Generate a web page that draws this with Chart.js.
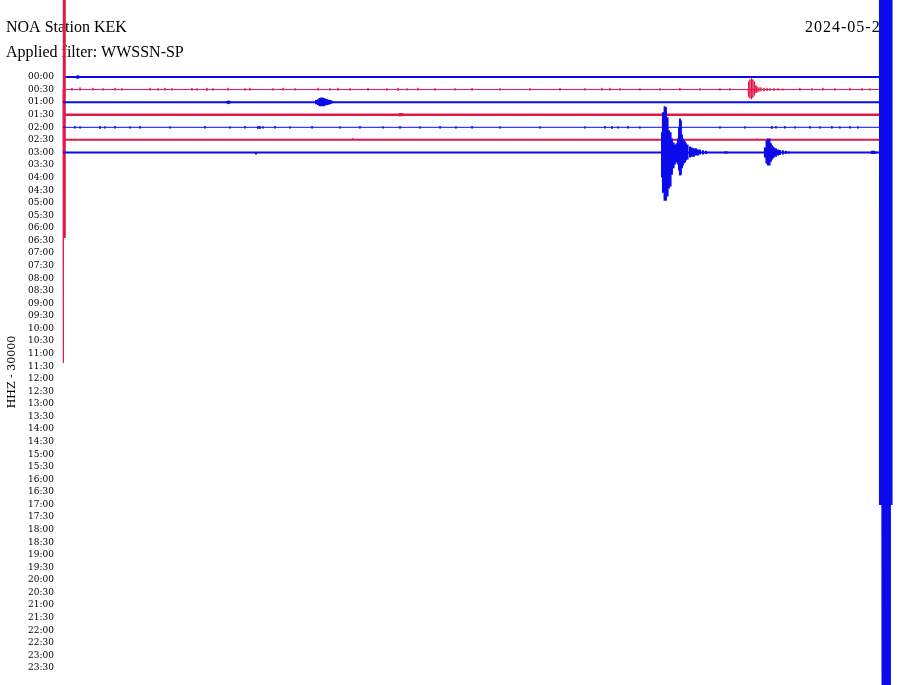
<!DOCTYPE html>
<html>
<head>
<meta charset="utf-8">
<script src="https://cdn.jsdelivr.net/npm/chart.js@4.4.1/dist/chart.umd.min.js"></script>
<style>
  html, body { margin: 0; padding: 0; background: #fff; }
  #wrap { width: 900px; height: 685px; }
</style>
</head>
<body>
<div id="wrap"><canvas id="heli" width="900" height="685"></canvas></div>
<script>
const STATION = 'NOA Station KEK';
const FILTER = 'Applied filter: WWSSN-SP';
const DATE_LABEL = '2024-05-22';
const CHANNEL = 'HHZ - 30000';
const COUNTS_PER_ROW = 30; // thousands of counts between two rows

const ROW_LABELS = [
  '00:00', '00:30', '01:00', '01:30', '02:00', '02:30', '03:00', '03:30',
  '04:00', '04:30', '05:00', '05:30', '06:00', '06:30', '07:00', '07:30',
  '08:00', '08:30', '09:00', '09:30', '10:00', '10:30', '11:00', '11:30',
  '12:00', '12:30', '13:00', '13:30', '14:00', '14:30', '15:00', '15:30',
  '16:00', '16:30', '17:00', '17:30', '18:00', '18:30', '19:00', '19:30',
  '20:00', '20:30', '21:00', '21:30', '22:00', '22:30', '23:00', '23:30',
];

// samples: [minute in the row, swing up, swing down] in thousands of counts
const TRACE_0000 = [
  [0, 0, 0], [1.03, 2, 2], [1.10, 4, 4], [1.17, 3, 3], [60.0, 0, 0],
];

const TRACE_0030 = [
  [0.00, 300, 652], [0.05, 300, 566], [0.10, 300, 354], [0.15, 300, 354],
  [0.66, 4, 2], [1.25, 5, 2], [2.20, 4, 2], [2.94, 3, 2], [3.82, 4, 2], [4.33, 3, 2],
  [6.39, 4, 2], [6.98, 3, 2], [7.49, 4, 2], [8.00, 3, 2], [9.47, 4, 2], [9.84, 3, 2],
  [10.57, 4, 3], [11.02, 3, 2], [12.12, 4, 2], [13.37, 3, 2], [13.73, 4, 2], [15.42, 3, 2],
  [16.16, 4, 2], [17.04, 3, 2], [18.73, 4, 2], [19.61, 3, 2], [20.20, 4, 2], [21.08, 3, 2],
  [22.40, 4, 2], [23.79, 3, 2], [24.60, 4, 3], [25.26, 3, 2], [26.07, 4, 2], [27.32, 3, 2],
  [28.79, 3, 2], [30.04, 4, 2], [32.09, 3, 2], [34.30, 3, 2], [36.50, 4, 2], [38.33, 3, 2],
  [39.58, 4, 2], [40.17, 4, 2], [40.91, 3, 2], [42.37, 3, 2], [43.84, 3, 2], [45.31, 4, 2],
  [46.78, 3, 2], [48.25, 3, 2], [48.98, 3, 2],
  [50.31, 10, 10], [50.38, 19, 17], [50.45, 24, 21], [50.53, 27, 23], [50.60, 27, 23],
  [50.67, 24, 19], [50.75, 19, 14], [50.82, 14, 10], [50.89, 10, 8], [50.97, 7, 7],
  [51.11, 5, 5], [51.26, 5, 4], [51.48, 4, 4], [51.70, 4, 3], [51.92, 3, 3], [52.21, 3, 3],
  [52.51, 3, 2], [52.87, 2, 2],
  [54.12, 4, 2], [55.00, 3, 2], [55.81, 4, 2], [56.69, 3, 2], [57.80, 4, 2], [58.68, 3, 2],
  [59.26, 3, 2], [60.0, 0, 0],
];

const TRACE_0100 = [
  [0, 0, 0],
  [12.05, 3, 3], [12.12, 4, 4], [12.19, 4, 3], [12.26, 3, 3],
  [18.43, 2, 2], [18.58, 5, 5], [18.73, 7, 7], [18.84, 10, 10], [18.95, 11, 10],
  [19.06, 11, 10], [19.17, 10, 10], [19.28, 8, 8], [19.39, 7, 7], [19.50, 6, 6],
  [19.61, 5, 5], [19.72, 4, 4], [19.83, 2, 2],
  [45.31, 2, 2], [46.41, 2, 2], [58.53, 2, 2], [60.0, 0, 0],
];

const TRACE_0130 = [
  [0, 0, 0], [13.73, 2, 2], [23.28, 2, 2], [24.75, 4, 4], [24.90, 4, 3],
  [27.47, 3, 3], [29.08, 2, 2], [58.38, 2, 2], [60.0, 0, 0],
];

const TRACE_0200 = [
  [0, 0, 0], [0.88, 3, 3], [1.25, 2, 3], [2.72, 3, 4], [3.08, 2, 3], [3.82, 3, 3],
  [4.92, 2, 3], [5.65, 3, 3], [7.86, 2, 3], [10.43, 3, 3], [12.26, 2, 3], [13.37, 3, 3],
  [14.32, 3, 4], [14.47, 3, 4], [14.69, 2, 3], [15.57, 3, 3], [16.67, 2, 3], [18.29, 3, 3],
  [20.34, 2, 3], [21.81, 3, 3], [23.50, 2, 3], [24.75, 3, 3], [26.22, 2, 3], [27.69, 3, 3],
  [28.86, 2, 3], [30.04, 3, 3], [32.09, 2, 3], [35.03, 2, 3], [38.33, 2, 3], [39.80, 3, 3],
  [40.32, 3, 4], [40.76, 2, 3], [41.49, 3, 3], [42.37, 2, 3], [48.25, 2, 3], [50.08, 2, 3],
  [52.07, 3, 4], [52.36, 3, 3], [53.02, 3, 3], [53.76, 2, 3], [54.86, 3, 3], [55.59, 2, 3],
  [56.47, 3, 3], [57.06, 2, 3], [57.80, 3, 3], [58.38, 2, 3], [60.0, 0, 0],
];

const TRACE_0230 = [
  [0, 0, 0], [3.45, 2, 2], [21.30, 4, 2], [50.97, 3, 2], [53.39, 2, 2], [57.43, 2, 1],
  [60.0, 0, 0],
];

const TRACE_0300 = [
  [0, 0, 0], [14.17, 2, 5], [48.62, 3, 3], [48.76, 3, 3],
  [43.99, 48, 60], [44.06, 96, 96], [44.14, 108, 110], [44.21, 110, 115], [44.28, 108, 115],
  [44.36, 84, 105], [44.43, 60, 91], [44.50, 53, 86], [44.58, 48, 81], [44.65, 43, 67],
  [44.72, 33, 53], [44.80, 24, 38], [44.87, 22, 33], [44.94, 19, 29], [45.02, 19, 24],
  [45.09, 22, 24], [45.16, 33, 29], [45.24, 60, 43], [45.31, 81, 55], [45.38, 76, 53],
  [45.46, 43, 38], [45.53, 33, 31], [45.60, 29, 26], [45.68, 26, 24], [45.75, 22, 19],
  [45.83, 19, 17], [45.90, 17, 14], [46.05, 14, 12], [46.19, 12, 10], [46.34, 10, 10],
  [46.49, 10, 7], [46.63, 7, 7], [46.78, 7, 5], [47.00, 5, 5], [47.22, 4, 4],
  [51.55, 12, 12], [51.63, 22, 22], [51.70, 29, 26], [51.77, 33, 31], [51.85, 33, 31],
  [51.92, 26, 24], [51.99, 22, 22], [52.07, 17, 17], [52.14, 14, 14], [52.21, 12, 12],
  [52.36, 10, 10], [52.51, 7, 7], [52.65, 6, 6], [52.87, 5, 5], [53.09, 4, 4], [53.31, 3, 3],
  [59.41, 4, 4], [59.56, 4, 4], [59.71, 3, 3],
  [60.00, 500, 841], [60.07, 500, 841], [60.15, 500, 1400], [60.22, 500, 1400],
  [60.29, 500, 1400], [60.37, 500, 1400], [60.44, 500, 1400], [60.51, 500, 1400],
  [60.59, 500, 1400], [60.66, 500, 1400], [60.73, 500, 1400], [60.81, 500, 841],
  [60.88, 500, 480],
];

const TRACES = [TRACE_0000, TRACE_0030, TRACE_0100, TRACE_0130, TRACE_0200, TRACE_0230, TRACE_0300];

const BLUE = '#0a0aec';
const RED = '#e0184a';
const TRACE_STYLES = [
  { color: BLUE, width: 2 },
  { color: RED, width: 1 },
  { color: BLUE, width: 2 },
  { color: RED, width: 2.5 },
  { color: BLUE, width: 1 },
  { color: RED, width: 2 },
  { color: BLUE, width: 2 },
];

// every sample becomes a vertical stroke through the row's baseline
function toPoints(row, samples) {
  const sorted = samples.slice().sort((a, b) => a[0] - b[0]);
  const pts = [];
  sorted.forEach(([minute, up, down]) => {
    pts.push({ x: minute, y: row });
    pts.push({ x: minute, y: row - up / COUNTS_PER_ROW });
    pts.push({ x: minute, y: row + down / COUNTS_PER_ROW });
    pts.push({ x: minute, y: row });
  });
  return pts;
}

const headerPlugin = {
  id: 'header',
  beforeDatasetsDraw(chart) {
    const ctx = chart.ctx;
    ctx.save();
    ctx.fillStyle = '#000';
    ctx.textBaseline = 'alphabetic';
    ctx.textAlign = 'left';
    ctx.font = '16px "Liberation Serif"';
    ctx.fillText(STATION, 6, 32);
    ctx.fillText(FILTER, 6, 57);
    ctx.letterSpacing = '1px';
    ctx.fillText(DATE_LABEL, 805, 32);
    ctx.letterSpacing = '0px';
    ctx.font = '11px "DejaVu Serif"';
    ctx.translate(15, 372);
    ctx.rotate(-Math.PI / 2);
    ctx.textAlign = 'center';
    ctx.fillText(CHANNEL, 0, 0);
    ctx.restore();
  },
};

const datasets = TRACES.map((samples, row) => ({
  label: ROW_LABELS[row],
  data: toPoints(row, samples),
  borderColor: TRACE_STYLES[row].color,
  borderWidth: TRACE_STYLES[row].width,
  borderJoinStyle: 'bevel',
  borderCapStyle: 'butt',
  pointRadius: 0,
  tension: 0,
  fill: false,
  clip: false,
  order: -row,
}));

new Chart(document.getElementById('heli').getContext('2d'), {
  type: 'line',
  data: { datasets },
  plugins: [headerPlugin],
  options: {
    responsive: false,
    animation: false,
    devicePixelRatio: 1,
    layout: { padding: { left: 0, right: 6, top: 0, bottom: 0 } },
    plugins: {
      legend: { display: false },
      tooltip: { enabled: false },
    },
    scales: {
      x: {
        type: 'linear',
        display: false,
        min: -0.147,
        max: 61.03,
      },
      y: {
        type: 'linear',
        reverse: true,
        min: -6.124,
        max: 48.354,
        afterBuildTicks(scale) {
          scale.ticks = ROW_LABELS.map((_, i) => ({ value: i }));
        },
        afterFit(scale) {
          scale.width = 61;
          scale.paddingTop = 0;
          scale.paddingBottom = 0;
        },
        grid: { display: false, drawTicks: false },
        border: { display: false },
        ticks: {
          autoSkip: false,
          padding: 7,
          color: '#000',
          font: { family: 'DejaVu Serif', size: 9 },
          callback: (value) => ROW_LABELS[value] ?? '',
        },
      },
    },
  },
});
</script>
</body>
</html>
